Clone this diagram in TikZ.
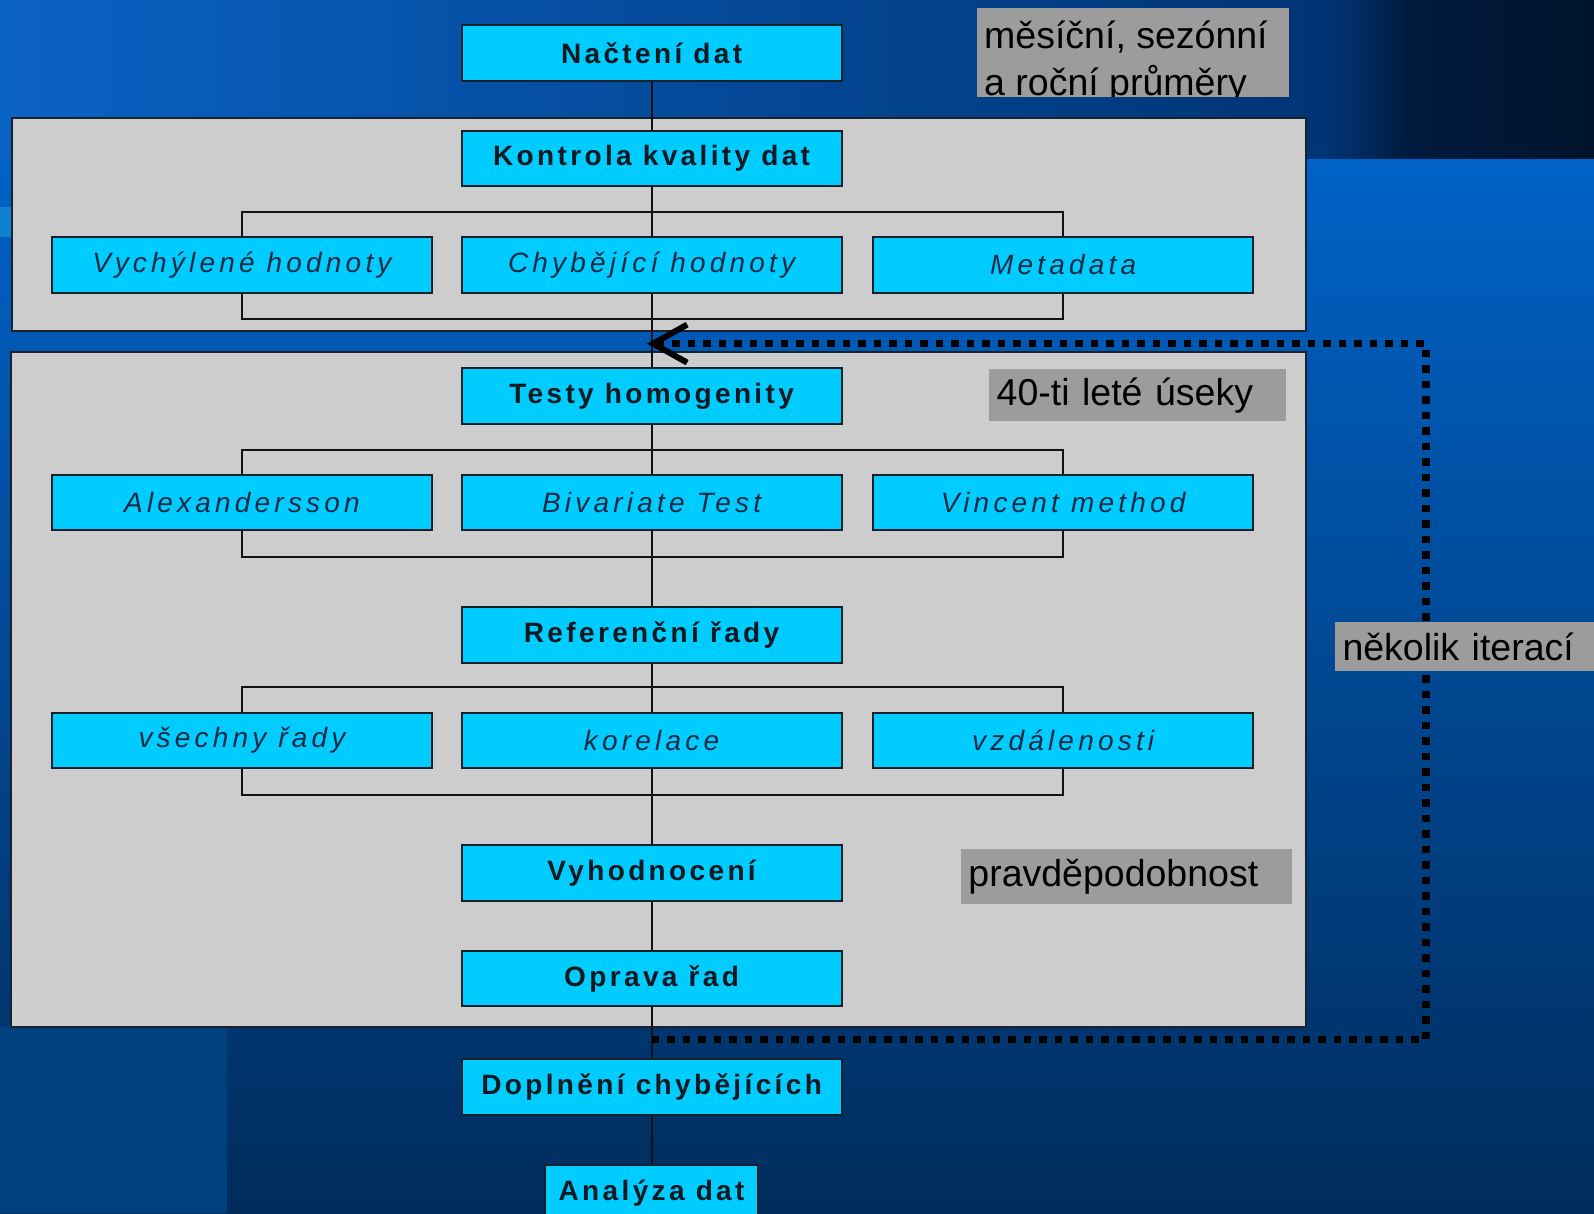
\documentclass[tikz,border=0pt]{standalone}
\usepackage{fontspec}
\setmainfont{Liberation Sans}
\newfontfamily\trackedfont[LetterSpace=12]{Liberation Sans}
\newfontfamily\trackedit[LetterSpace=15]{Liberation Sans}
\usetikzlibrary{arrows.meta,calc}

\definecolor{boxcyan}{HTML}{00CCFF}
\definecolor{boxline}{HTML}{15202A}
\definecolor{boxtext}{HTML}{101820}
\definecolor{subtext}{HTML}{1A2A44}
\definecolor{panelgray}{HTML}{CDCDCD}
\definecolor{panelline}{HTML}{1A2230}
\definecolor{notegray}{HTML}{9C9C9C}
\definecolor{linecol}{HTML}{111111}
\definecolor{bgtop}{HTML}{0062C6}
\definecolor{bgbottom}{HTML}{002C5C}
\definecolor{bandA}{HTML}{0A62C4}
\definecolor{bandB}{HTML}{003474}
\definecolor{bandC}{HTML}{001A3E}
\definecolor{bandD}{HTML}{00132C}
\definecolor{stripe}{HTML}{00427F}
\definecolor{edgelight}{HTML}{1080D0}

\tikzset{
  stepbox/.style={draw=boxline, line width=2pt, fill=boxcyan,
    minimum width=380pt, minimum height=55.5pt, inner sep=0pt,
    font=\trackedfont\bfseries\fontsize{28}{32}\selectfont, text=boxtext},
  subbox/.style={stepbox,
    font=\trackedit\itshape\fontsize{28}{32}\selectfont, text=subtext},
  panel/.style={draw=panelline, line width=2pt, fill=panelgray,
    inner sep=0pt, anchor=north west},
  note/.style={fill=notegray, inner xsep=7.5pt, inner ysep=0pt, align=left,
    anchor=north west, font=\fontsize{37.5}{46}\selectfont, text=black},
  notetext/.style={inner sep=0pt, anchor=base west,
    font=\fontsize{37.5}{46}\selectfont, text=black},
  spine/.style={draw=linecol, line width=2pt},
  iterloop/.style={draw=black, line width=7.5pt, dash pattern=on 7.5pt off 8pt},
}

\begin{document}
\begin{tikzpicture}[x=1pt, y=-1pt]
  \useasboundingbox (0,0) rectangle (1594,1213);
  \clip (0,0) rectangle (1594,1213);

  % background
  \shade[top color=bgtop, bottom color=bgbottom] (0,158) rectangle (1594,1213);
  \shade[left color=bandA, right color=bandB] (0,0) rectangle (1330,158);
  \shade[left color=bandB, right color=bandC] (1330,0) rectangle (1410,158);
  \shade[left color=bandC, right color=bandD] (1410,0) rectangle (1594.5,158);
  \fill[stripe] (0,1026) rectangle (227,1213);
  \fill[edgelight] (0,207) rectangle (11,237);

  % panels
  \node[panel, minimum width=1294.1pt, minimum height=213.5pt] (qcpanel) at (11.2,116.9) {};
  \node[panel, minimum width=1295.1pt, minimum height=675.1pt] (hompanel) at (10.2,350.7) {};

  % main column
  \node[stepbox] (nacteni)  at (651.6,52.9)  {Načtení dat};
  \node[stepbox] (kontrola) at (651.6,158.6) {Kontrola kvality dat};
  \node[subbox]  (vych)     at (242,264.8)   {Vychýlené hodnoty};
  \node[subbox]  (chyb)     at (651.6,264.8) {Chybějící hodnoty};
  \node[subbox]  (meta)     at (1063.2,264.8){Metadata};
  \node[stepbox] (testy)    at (651.6,396)   {Testy homogenity};
  \node[subbox]  (alex)     at (242,502.7)   {Alexandersson};
  \node[subbox]  (bivar)    at (651.6,502.7) {Bivariate Test};
  \node[subbox]  (vinc)     at (1063.2,502.7){Vincent method};
  \node[stepbox] (refer)    at (651.6,635)   {Referenční řady};
  \node[subbox]  (vsech)    at (242,740.6)   {všechny řady};
  \node[subbox]  (korel)    at (651.6,740.6) {korelace};
  \node[subbox]  (vzdal)    at (1063.2,740.6){vzdálenosti};
  \node[stepbox] (vyhod)    at (651.6,872.8) {Vyhodnocení};
  \node[stepbox] (oprava)   at (651.6,978.5) {Oprava řad};
  \node[stepbox] (dopl)     at (651.6,1086.8){Doplnění chybějících};
  \node[stepbox, minimum width=213.4pt] (analyza) at (651.6,1192.8) {Analýza dat};

  % spine connectors
  \draw[spine] (nacteni) -- (kontrola);
  \draw[spine] (kontrola) -- (chyb);
  \draw[spine] (chyb) -- (testy);
  \draw[spine] (testy) -- (bivar);
  \draw[spine] (bivar) -- (refer);
  \draw[spine] (refer) -- (korel);
  \draw[spine] (korel) -- (vyhod);
  \draw[spine] (vyhod) -- (oprava);
  \draw[spine] (oprava) -- (dopl);
  \draw[spine] (dopl) -- (analyza);

  % branch brackets
  \draw[spine] (vych.north) -- ++(0,-24.4) -| (meta.north);
  \draw[spine] (vych.south) -- ++(0,25.4) -| (meta.south);
  \draw[spine] (alex.north) -- ++(0,-24.4) -| (vinc.north);
  \draw[spine] (alex.south) -- ++(0,25.4) -| (vinc.south);
  \draw[spine] (vsech.north) -- ++(0,-24.4) -| (vzdal.north);
  \draw[spine] (vsech.south) -- ++(0,25.4) -| (vzdal.south);

  % iteration loop
  \coordinate (loopout) at (651.6,1039.6);
  \coordinate (loopbr)  at (1426,1039.6);
  \coordinate (looptr)  at (1426,343.6);
  \coordinate (loopin)  at (647,343.6);
  \draw[iterloop, -{Straight Barb[length=34pt,width=38pt,line width=6pt]}]
    (loopout) -- (loopbr) -- (looptr) -- (loopin);

  % notes
  \begin{scope}
    \clip (977,8.1) rectangle (1289,96.6);
    \fill[notegray] (977,8.1) rectangle (1289,96.6);
    \node[notetext] (prumery1) at (984,48.5) {měsíční, sezónní};
    \node[notetext] (prumery2) at (984,95) {a roční průměry};
  \end{scope}
  \node[note, text width=282pt, minimum height=52pt] (useky) at (989,369) {40-ti leté úseky};
  \node[note, text width=316pt, minimum height=55pt] (pravd) at (960.7,848.9) {pravděpodobnost};
  \node[note, text width=260pt, minimum height=49pt] (iterace) at (1334.8,622) {několik iterací};
\end{tikzpicture}
\end{document}
